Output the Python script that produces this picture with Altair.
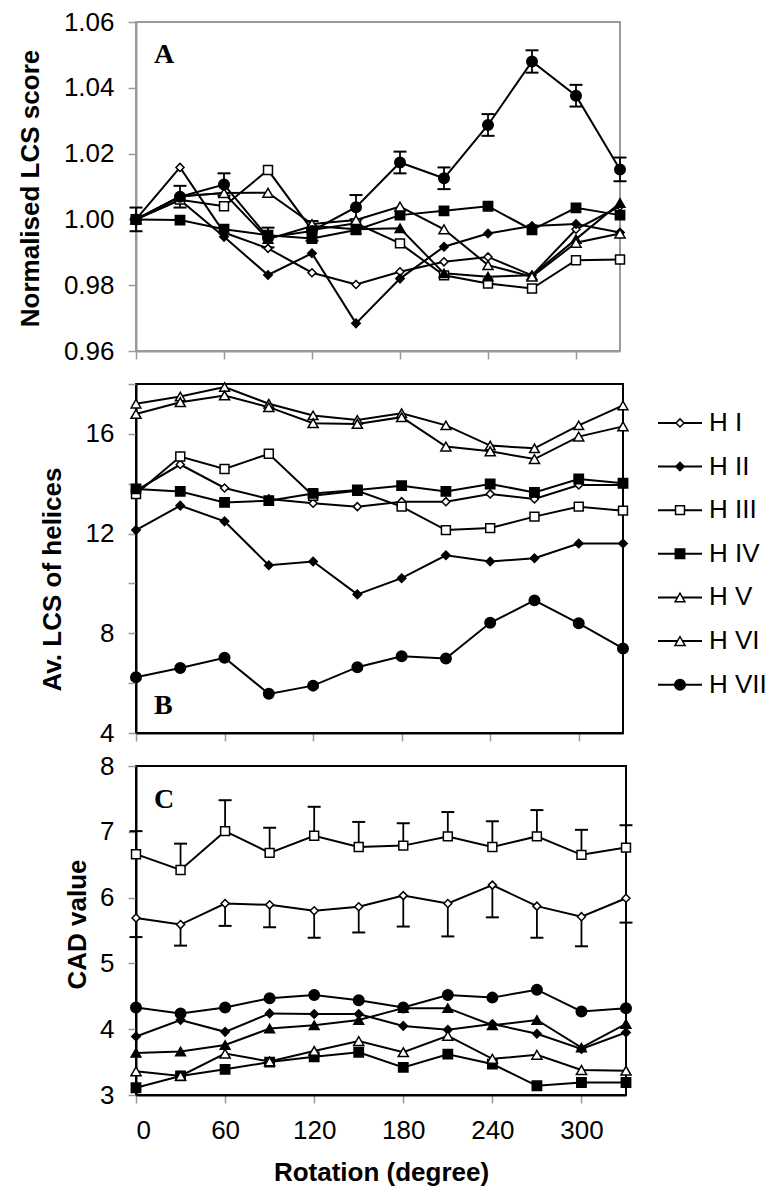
import altair as alt
import pandas as pd

# ---------------- data ----------------
rotation = [0, 30, 60, 90, 120, 150, 180, 210, 240, 270, 300, 330]
names = ["H I", "H II", "H III", "H IV", "H V", "H VI", "H VII"]

# Panel A: normalised LCS score
a_h1 = [1.000, 1.0158, 0.996, 0.9912, 0.9838, 0.9802, 0.9841, 0.9871, 0.9886, 0.9830, 0.9970, 1.0040]
a_h2 = [1.000, 1.0059, 0.9947, 0.9831, 0.9897, 0.9684, 0.9820, 0.9917, 0.9957, 0.9980, 0.9986, 0.9960]
a_h3 = [1.000, 1.0060, 1.0040, 1.0150, 0.9968, 0.9988, 0.9927, 0.9830, 0.9805, 0.9790, 0.9876, 0.9878]
a_h4 = [1.000, 0.9998, 0.9970, 0.9952, 0.9942, 0.9968, 1.0013, 1.0026, 1.0040, 0.9968, 1.0035, 1.0013]
a_h5 = [1.000, 1.0070, 1.0080, 0.9940, 0.9980, 0.9970, 0.9973, 0.9836, 0.9826, 0.9830, 0.9940, 1.0050]
a_h6 = [1.000, 1.0070, 1.0080, 1.0081, 0.9986, 0.9998, 1.0039, 0.9970, 0.9861, 0.9826, 0.9929, 0.9957]
a_h7 = [1.000, 1.0069, 1.0106, 0.9945, 0.9965, 1.0037, 1.0173, 1.0125, 1.0287, 1.0480, 1.0376, 1.0152]
a_h7_err = [0.0036, 0.0033, 0.0034, 0.0030, 0.0030, 0.0037, 0.0033, 0.0033, 0.0033, 0.0034, 0.0033, 0.0036]

# Panel B: average LCS of helices
b_h1 = [13.72, 14.77, 13.83, 13.39, 13.22, 13.08, 13.28, 13.28, 13.59, 13.39, 13.95, 13.95]
b_h2 = [12.14, 13.12, 12.49, 10.73, 10.88, 9.56, 10.21, 11.13, 10.88, 11.01, 11.60, 11.60]
b_h3 = [13.59, 15.09, 14.59, 15.20, 13.52, 13.72, 13.08, 12.14, 12.22, 12.68, 13.08, 12.92]
b_h4 = [13.79, 13.69, 13.25, 13.32, 13.61, 13.75, 13.92, 13.69, 13.99, 13.65, 14.19, 14.02]
b_h5 = [17.21, 17.50, 17.88, 17.21, 16.74, 16.56, 16.83, 16.34, 15.53, 15.42, 16.34, 17.14]
b_h6 = [16.80, 17.27, 17.54, 17.07, 16.43, 16.40, 16.67, 15.49, 15.30, 14.99, 15.89, 16.30]
b_h7 = [6.24, 6.61, 7.02, 5.57, 5.90, 6.64, 7.08, 6.99, 8.42, 9.32, 8.40, 7.39]

# Panel C: CAD value
c_h1 = [5.69, 5.59, 5.91, 5.89, 5.80, 5.86, 6.03, 5.91, 6.19, 5.87, 5.71, 5.99]
c_h1_low = [5.40, 5.27, 5.57, 5.55, 5.39, 5.47, 5.56, 5.41, 5.70, 5.39, 5.26, 5.62]
c_h2 = [3.89, 4.14, 3.96, 4.24, 4.23, 4.23, 4.05, 3.99, 4.08, 3.93, 3.70, 3.95]
c_h3 = [6.66, 6.42, 7.01, 6.68, 6.94, 6.77, 6.79, 6.93, 6.77, 6.93, 6.65, 6.76]
c_h3_up = [7.01, 6.82, 7.48, 7.06, 7.38, 7.15, 7.13, 7.30, 7.16, 7.33, 7.03, 7.10]
c_h4 = [3.11, 3.29, 3.39, 3.50, 3.58, 3.65, 3.42, 3.62, 3.47, 3.14, 3.19, 3.19]
c_h5 = [3.64, 3.66, 3.76, 4.01, 4.06, 4.14, 4.32, 4.32, 4.06, 4.14, 3.72, 4.08]
c_h6 = [3.36, 3.29, 3.63, 3.51, 3.67, 3.82, 3.65, 3.90, 3.55, 3.61, 3.38, 3.37]
c_h7 = [4.33, 4.24, 4.33, 4.47, 4.52, 4.44, 4.33, 4.52, 4.48, 4.60, 4.27, 4.32]

# tick values
x_ticks = [0, 60, 120, 180, 240, 300]
a_ticks = [0.96, 0.97, 0.98, 0.99, 1.00, 1.01, 1.02, 1.03, 1.04, 1.05, 1.06]
b_ticks = [4, 6, 8, 10, 12, 14, 16, 18]
c_ticks = [3, 3.5, 4, 4.5, 5, 5.5, 6, 6.5, 7, 7.5, 8]

# marker styles
shapes = ["diamond", "diamond", "square", "square", "triangle-up", "triangle-up", "circle"]
sizes = [64, 110, 100, 144, 110, 110, 150]
fills_ac = ["white", "black", "white", "black", "black", "white", "black"]
fills_b = ["white", "black", "white", "black", "white", "white", "black"]

FONT = "Liberation Sans"
GRAY = "#9a9a9a"


def long_df(series):
    rows = []
    for name, vals in zip(names, series):
        for r, v in zip(rotation, vals):
            rows.append({"rotation": r, "series": name, "value": v})
    return pd.DataFrame(rows)


def marker_enc(fills):
    return dict(
        shape=alt.Shape("series:N", scale=alt.Scale(domain=names, range=shapes), legend=None),
        fill=alt.Fill("series:N", scale=alt.Scale(domain=names, range=fills), legend=None),
        size=alt.Size("series:N", scale=alt.Scale(domain=names, range=sizes), legend=None),
    )


def panel(df, width, height, ydom, yticks, lexpr, ytitle, tx, ty, fills,
          frame, domain_color, show_x, letter, letter_y, err_layers):
    xaxis_kw = dict(values=x_ticks, tickSize=8, tickColor=GRAY, tickWidth=1.5,
                    domainColor=domain_color, domainWidth=2, grid=False)
    if show_x:
        xaxis_kw.update(labels=True, labelFont=FONT, labelFontSize=26, labelColor="black",
                        labelPadding=14, title="Rotation (degree)", titleFont=FONT,
                        titleFontSize=26, titleFontWeight="bold", titlePadding=16,
                        titleColor="black")
    else:
        xaxis_kw.update(labels=False, title="")
    x = alt.X("rotation:Q", scale=alt.Scale(domain=[0, 330], nice=False, zero=False),
              axis=alt.Axis(**xaxis_kw))
    y = alt.Y("value:Q", scale=alt.Scale(domain=ydom, nice=False, zero=False),
              axis=alt.Axis(values=yticks, labelExpr=lexpr, labelFont=FONT, labelFontSize=26,
                            labelColor="black", labelPadding=14, tickSize=8, tickColor=GRAY,
                            tickWidth=1.5, domainColor=domain_color, domainWidth=2, grid=False,
                            title=ytitle, titleFont=FONT, titleFontSize=26,
                            titleFontWeight="bold", titleColor="black", titleAngle=270,
                            titleBaseline="alphabetic", titleAlign="center",
                            titleX=tx, titleY=ty))
    base = alt.Chart(df)
    lines = base.mark_line(color="black", strokeWidth=2).encode(x=x, y=y, detail="series:N")
    pts = base.mark_point(filled=True, opacity=1, stroke="black", strokeWidth=1.5).encode(
        x=x, y=y, **marker_enc(fills))
    lab = alt.Chart(pd.DataFrame({"letter": [letter]})).mark_text(
        align="left", baseline="alphabetic", font="Liberation Serif", fontSize=28,
        fontWeight="bold", color="black").encode(
        text="letter:N", x=alt.value(18), y=alt.value(letter_y))
    layers = [lines] + err_layers(x) + [pts, lab]
    return alt.layer(*layers).properties(width=width, height=height)


def errbar_layers(df, lo, hi, cap_lo, cap_hi):
    def make(x):
        b = alt.Chart(df)
        out = [b.mark_rule(color="black", strokeWidth=1.8).encode(
            x=x, y=alt.Y(f"{lo}:Q"), y2=alt.Y2(f"{hi}:Q"))]
        if cap_lo:
            out.append(b.mark_tick(orient="horizontal", color="black", thickness=2, size=13,
                                   opacity=1).encode(x=x, y=alt.Y(f"{lo}:Q")))
        if cap_hi:
            out.append(b.mark_tick(orient="horizontal", color="black", thickness=2, size=13,
                                   opacity=1).encode(x=x, y=alt.Y(f"{hi}:Q")))
        return out
    return make


# Panel A
df_a = long_df([a_h1, a_h2, a_h3, a_h4, a_h5, a_h6, a_h7])
err_a = pd.DataFrame({"rotation": rotation,
                      "lo": [v - e for v, e in zip(a_h7, a_h7_err)],
                      "hi": [v + e for v, e in zip(a_h7, a_h7_err)]})
chart_a = panel(df_a, 484, 329, [0.96, 1.06], a_ticks,
                "abs(round(datum.value*100)) % 2 == 0 ? format(datum.value, '.2f') : ''",
                "Normalised LCS score", -98, 166, fills_ac, GRAY, GRAY, False,
                "A", 41, errbar_layers(err_a, "lo", "hi", True, True)).properties(
    view=alt.ViewBackground(stroke=GRAY, strokeWidth=2))

# Panel B (with the series key to its right)
df_b = long_df([b_h1, b_h2, b_h3, b_h4, b_h5, b_h6, b_h7])
B_W, B_H = 487, 349
core_b = panel(df_b, B_W, B_H, [4, 18], b_ticks,
               "datum.value % 4 == 0 && datum.value < 18 ? format(datum.value, 'd') : ''",
               "Av. LCS of helices", -76, 195, fills_b, "black", "black", False,
               "B", B_H - 19, lambda x: [])

leg_df = pd.DataFrame({"series": names})
ly = alt.Y("series:N", sort=names,
           scale=alt.Scale(domain=names, padding=1.418, align=0.446), axis=None)
leg_base = alt.Chart(leg_df)
leg_line = leg_base.mark_rule(color="black", strokeWidth=2).encode(
    y=ly, x=alt.value(B_W + 35), x2=alt.value(B_W + 79))
leg_pts = leg_base.mark_point(filled=True, opacity=1, stroke="black", strokeWidth=1.5).encode(
    y=ly, x=alt.value(B_W + 57), **marker_enc(fills_b))
leg_txt = leg_base.mark_text(align="left", baseline="middle", font=FONT, fontSize=26,
                             color="black").encode(y=ly, x=alt.value(B_W + 86), text="series:N")
legend = alt.layer(leg_line, leg_pts, leg_txt)

chart_b = alt.layer(core_b, legend).resolve_scale(y="independent").properties(
    width=B_W, height=B_H, view=alt.ViewBackground(stroke="black", strokeWidth=2))

# Panel C
df_c = long_df([c_h1, c_h2, c_h3, c_h4, c_h5, c_h6, c_h7])
err_c1 = pd.DataFrame({"rotation": rotation, "lo": c_h1_low, "hi": c_h1})
err_c3 = pd.DataFrame({"rotation": rotation, "lo": c_h3, "hi": c_h3_up})


def err_c(x):
    return errbar_layers(err_c1, "lo", "hi", True, False)(x) + \
        errbar_layers(err_c3, "lo", "hi", False, True)(x)


chart_c = panel(df_c, 490, 329, [3, 8], c_ticks,
                "datum.value % 1 == 0 ? format(datum.value, 'd') : ''",
                "CAD value", -51, 158, fills_ac, "black", "black", True,
                "C", 42, err_c).properties(
    view=alt.ViewBackground(stroke="black", strokeWidth=2))

chart = alt.vconcat(chart_a, chart_b, chart_c, spacing=33, bounds="flush").resolve_scale(
    x="independent", y="independent", shape="independent", fill="independent",
    size="independent").properties(
    padding={"left": 8, "top": 0, "right": 2, "bottom": 2},
    background="white",
).configure_view(stroke="transparent")

chart.save("out.html", embed_options={"renderer": "svg", "actions": False})
